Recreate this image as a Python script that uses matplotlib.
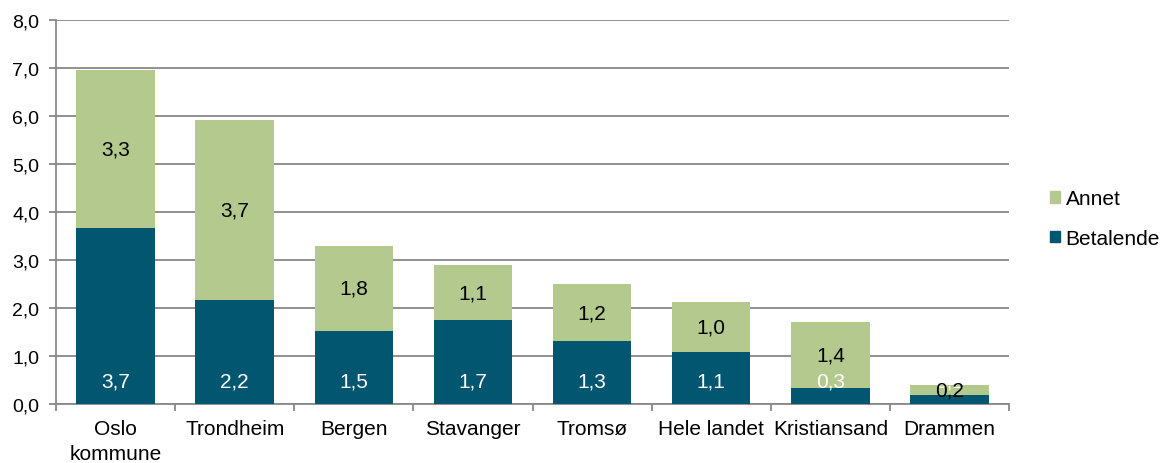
import matplotlib
matplotlib.use("Agg")
import matplotlib.pyplot as plt
from matplotlib.patches import Patch
import numpy as np

plt.rcParams['font.family'] = ['Liberation Sans', 'DejaVu Sans']

categories = ["Oslo\nkommune", "Trondheim", "Bergen", "Stavanger", "Tromsø",
              "Hele landet", "Kristiansand", "Drammen"]
betalende = [3.66, 2.17, 1.53, 1.74, 1.31, 1.08, 0.33, 0.19]
annet = [3.30, 3.74, 1.76, 1.15, 1.18, 1.05, 1.38, 0.21]
betalende_labels = ["3,7", "2,2", "1,5", "1,7", "1,3", "1,1", "0,3", "0,2"]
annet_labels = ["3,3", "3,7", "1,8", "1,1", "1,2", "1,0", "1,4", "0,2"]
yticks = [0, 1, 2, 3, 4, 5, 6, 7, 8]

dark = "#03566F"
green = "#B3C98D"
grid_c = "#888888"
fs = 15

fig = plt.figure(figsize=(11.62, 4.64), dpi=100)
ax = fig.add_axes([56/1162, 1 - 405/464, (1009-56)/1162, (405-20.7)/464])

x = np.arange(len(categories))
w = 0.66
ax.bar(x, betalende, width=w, color=dark, zorder=3)
ax.bar(x, annet, width=w, bottom=betalende, color=green, zorder=3)

for i in range(len(categories)):
    ax.annotate(betalende_labels[i], xy=(x[i], 0), xytext=(0, 16.5),
                textcoords="offset points", ha="center", va="center",
                color="white", fontsize=fs, zorder=5)
    ax.text(x[i], betalende[i] + annet[i] / 2, annet_labels[i], ha="center",
            va="center", color="black", fontsize=fs, zorder=6)

ax.set_xlim(-0.5, len(categories) - 0.5)
ax.set_ylim(0, 8)
ax.set_yticks(yticks)
ax.set_yticklabels([f"{v:.1f}".replace(".", ",") for v in yticks], fontsize=14)
ax.yaxis.grid(True, color=grid_c, linewidth=1.3, zorder=0)
ax.set_axisbelow(True)

ax.set_xticks(x)
ax.set_xticklabels(categories, fontsize=fs, linespacing=1.4)
ax.set_xticks(np.arange(-0.5, len(categories), 1), minor=True)
ax.tick_params(axis="x", which="major", length=0, pad=11)
ax.tick_params(axis="x", which="minor", length=5, width=1.3, color=grid_c, direction="out")
ax.tick_params(axis="y", length=5, width=1.3, color=grid_c, pad=7)

for s in ["top", "right"]:
    ax.spines[s].set_visible(False)
for s in ["left", "bottom"]:
    ax.spines[s].set_color(grid_c)
    ax.spines[s].set_linewidth(1.3)

handles = [Patch(color=green, label="Annet"), Patch(color=dark, label="Betalende")]
fig.legend(handles=handles, loc="upper left", bbox_to_anchor=(1050/1162, 1 - 190/464),
           frameon=False, fontsize=fs, handlelength=0.5, handleheight=0.5,
           handletextpad=0.25, labelspacing=1.0, borderaxespad=0, borderpad=0)

fig.savefig("out.png", dpi=100)
